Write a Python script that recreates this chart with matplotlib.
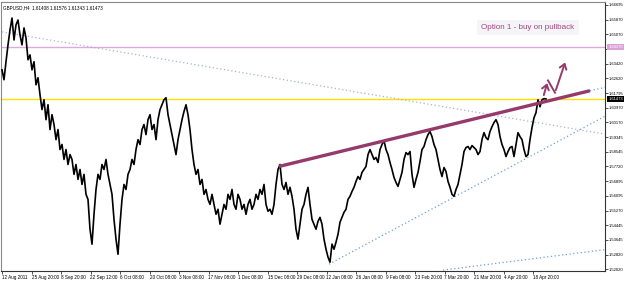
import numpy as np
import matplotlib.pyplot as plt
from matplotlib.transforms import blended_transform_factory

# GBPUSD H4 closes, one value every 4 bars
closes = [
    1.6309, 1.6254, 1.6354, 1.6448, 1.6531, 1.6597, 1.6475, 1.6559, 1.6586, 1.6503, 1.6448, 1.6542,
    1.6486, 1.6365, 1.6392, 1.6309, 1.6354, 1.6226, 1.6265, 1.6171, 1.6088, 1.6143, 1.6032, 1.6115,
    1.5977, 1.6060, 1.6005, 1.5921, 1.5977, 1.5866, 1.5894, 1.5811, 1.5866, 1.5783, 1.5838, 1.5811,
    1.5728, 1.5783, 1.5700, 1.5755, 1.5672, 1.5728, 1.5617, 1.5589, 1.5423, 1.5340, 1.5506, 1.5644,
    1.5728, 1.5700, 1.5783, 1.5755, 1.5811, 1.5728, 1.5672, 1.5617, 1.5478, 1.5368, 1.5284, 1.5451,
    1.5589, 1.5672, 1.5644, 1.5728, 1.5755, 1.5811, 1.5783, 1.5866, 1.5921, 1.5894, 1.5977, 1.6005,
    1.5949, 1.6032, 1.6060, 1.5977, 1.6005, 1.5921, 1.6032, 1.6088, 1.6115, 1.6143, 1.6154, 1.6060,
    1.6005, 1.5949, 1.5894, 1.5838, 1.5921, 1.5977, 1.6032, 1.6077, 1.6115, 1.6060, 1.5977, 1.5866,
    1.5783, 1.5728, 1.5755, 1.5672, 1.5700, 1.5617, 1.5644, 1.5589, 1.5561, 1.5617, 1.5561, 1.5506,
    1.5534, 1.5451, 1.5506, 1.5561, 1.5534, 1.5617, 1.5589, 1.5644, 1.5561, 1.5534, 1.5617, 1.5589,
    1.5534, 1.5561, 1.5506, 1.5561, 1.5589, 1.5534, 1.5561, 1.5617, 1.5589, 1.5644, 1.5617, 1.5672,
    1.5561, 1.5523, 1.5534, 1.5506, 1.5561, 1.5672, 1.5755, 1.5783, 1.5672, 1.5644, 1.5683, 1.5617,
    1.5656, 1.5606, 1.5534, 1.5423, 1.5368, 1.5451, 1.5534, 1.5561, 1.5617, 1.5656, 1.5561, 1.5478,
    1.5451, 1.5423, 1.5467, 1.5489, 1.5451, 1.5368, 1.5312, 1.5268, 1.5240, 1.5340, 1.5312, 1.5351,
    1.5395, 1.5462, 1.5489, 1.5517, 1.5534, 1.5589, 1.5606, 1.5633, 1.5656, 1.5689, 1.5716, 1.5700,
    1.5739, 1.5755, 1.5772, 1.5838, 1.5866, 1.5838, 1.5811, 1.5822, 1.5794, 1.5866, 1.5894, 1.5916,
    1.5866, 1.5838, 1.5794, 1.5755, 1.5711, 1.5683, 1.5661, 1.5700, 1.5739, 1.5811, 1.5849, 1.5838,
    1.5855, 1.5728, 1.5656, 1.5700, 1.5739, 1.5800, 1.5866, 1.5883, 1.5921, 1.5949, 1.5966, 1.5938,
    1.5894, 1.5866, 1.5811, 1.5755, 1.5716, 1.5766, 1.5744, 1.5689, 1.5656, 1.5617, 1.5606, 1.5644,
    1.5672, 1.5728, 1.5783, 1.5855, 1.5877, 1.5883, 1.5866, 1.5888, 1.5877, 1.5866, 1.5838, 1.5855,
    1.5921, 1.5960, 1.5932, 1.5921, 1.5966, 1.5993, 1.6016, 1.6032, 1.6005, 1.5938, 1.5894, 1.5866,
    1.5827, 1.5855, 1.5877, 1.5883, 1.5827, 1.5894, 1.5960, 1.5938, 1.5921, 1.5866, 1.5827, 1.5838,
    1.5921, 1.5988, 1.6043, 1.6071, 1.6143, 1.6104, 1.6143, 1.6149, 1.6147,
]
bar_step = 4

date_labels = ["12 Aug 2011", "25 Aug 20:00", "8 Sep 20:00", "22 Sep 12:00", "6 Oct 08:00",
               "20 Oct 08:00", "3 Nov 08:00", "17 Nov 08:00", "1 Dec 08:00", "15 Dec 08:00",
               "29 Dec 08:00", "12 Jan 08:00", "26 Jan 08:00", "9 Feb 08:00", "23 Feb 20:00",
               "7 Mar 20:00", "21 Mar 20:00", "4 Apr 20:00", "18 Apr 20:00"]
bars_per_label = 59

price_ticks = [1.66695, 1.65870, 1.65070, 1.64245, 1.63420, 1.62620, 1.61795, 1.60970,
               1.60170, 1.59345, 1.58545, 1.57720, 1.56895, 1.56095, 1.55270, 1.54445,
               1.53645, 1.52820, 1.52020]
hidden_tick = 1.64245  # covered by the pink level label

header = "GBPUSD,H4  1.61408 1.61576 1.61343 1.61473"
last_price = 1.61473
pink_level = 1.64370

# trend lines: (bar, price) end points
resistance = [(554, 1.5772), (1176, 1.6193)]
resistance_ext = [(1176, 1.6193), (1212, 1.6215)]
old_trend = [(0, 1.6520), (1212, 1.5949)]
support = [(654, 1.5229), (1212, 1.6060)]
lower_line = [(882, 1.5196), (1212, 1.5312)]
# projected path: up, pullback, up
path_bars = [1082, 1092, 1106, 1128]
path_prices = [1.6154, 1.6250, 1.6182, 1.6365]

purple = "#963a6b"
W, H = 625, 281
fig = plt.figure(figsize=(W / 100, H / 100), dpi=100)
fig.patch.set_facecolor("white")
ax = fig.add_axes([1 / W, 10 / H, 604 / W, 269 / H])
ax.set_xlim(-2, 1206)
ax.set_ylim(1.51909, 1.66861)

fam = ["Liberation Sans Narrow", "Liberation Sans", "DejaVu Sans"]
small = 3.3
ysmall = 3.0

x = np.arange(len(closes)) * bar_step
ax.plot(x, closes, color="black", lw=1.2, zorder=4)

ax.axhline(last_price, color="#ffe000", lw=1.0, zorder=2)
ax.axhline(pink_level, color="#dcaadc", lw=1.0, zorder=2)

dots = (0, (1, 2))
for seg, col in [(old_trend, "#aab4c4"), (support, "#6d9fd6"),
                 (lower_line, "#6d9fd6"), (resistance_ext, "#6d9fd6")]:
    (x0, y0), (x1, y1) = seg
    ax.plot([x0, x1], [y0, y1], color=col, lw=0.9, ls=dots, zorder=3)

(x0, y0), (x1, y1) = resistance
ax.plot([x0, x1], [y0, y1], color=purple, lw=2.4, solid_capstyle="butt", zorder=5)

ax.plot(path_bars[1:3], path_prices[1:3], color=purple, lw=1.4, zorder=5)
for i in (0, 2):
    ax.annotate("", xy=(path_bars[i + 1], path_prices[i + 1]),
                xytext=(path_bars[i], path_prices[i]),
                arrowprops=dict(arrowstyle="->,head_length=0.35,head_width=0.25",
                                color=purple, lw=1.4), zorder=5)

ax.text(0.795, 0.905, "Option 1 - buy on pullback", transform=ax.transAxes,
        color="#a0477c", fontsize=5.8, family=["Liberation Sans", "DejaVu Sans"],
        ha="left", va="center",
        bbox=dict(boxstyle="square,pad=0.55", fc="#f5f4f8", ec="none"))

ax.text(0.003, 0.988, header, transform=ax.transAxes, fontsize=small, family=fam,
        ha="left", va="top")

ax.yaxis.tick_right()
ax.set_yticks(price_ticks)
ax.set_yticklabels(["" if p == hidden_tick else f"{p:.5f}" for p in price_ticks],
                   fontsize=ysmall, family=fam)
ax.set_xticks(np.arange(len(date_labels)) * bars_per_label)
ax.set_xticklabels(date_labels, fontsize=small, family=fam, ha="left")
ax.tick_params(axis="both", length=2, width=0.6, pad=1.0, color="#333333")

tr = blended_transform_factory(ax.transAxes, ax.transData)
ax.text(1.0055, last_price, f"{last_price:.5f}", transform=tr, fontsize=ysmall, family=fam,
        color="white", va="center", ha="left",
        bbox=dict(boxstyle="square,pad=0.2", fc="black", ec="none"))
ax.text(1.0055, pink_level, f"{pink_level:.5f}", transform=tr, fontsize=ysmall, family=fam,
        color="white", va="center", ha="left",
        bbox=dict(boxstyle="square,pad=0.2", fc="#d9a3d9", ec="none"))

for side in ["left", "top"]:
    ax.spines[side].set_color("#888888")
for side in ["right", "bottom"]:
    ax.spines[side].set_color("#333333")
for s in ax.spines.values():
    s.set_linewidth(0.8)

fig.savefig("out.png", dpi=100, facecolor="white")
